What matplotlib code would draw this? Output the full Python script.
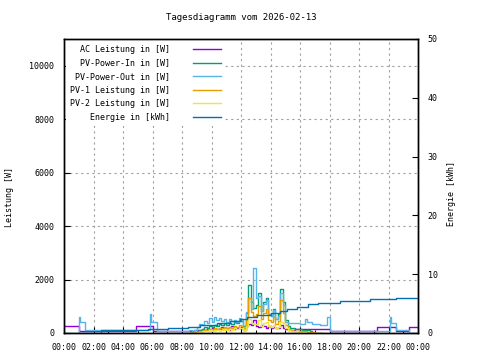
import numpy as np
import matplotlib
matplotlib.use('Agg')
from matplotlib import pyplot as plt
from matplotlib.ticker import MultipleLocator, FixedLocator

TITLE = 'Tagesdiagramm vom 2026-02-13'
LABELS = ['AC Leistung in [W]', 'PV-Power-In in [W]', 'PV-Power-Out in [W]',
          'PV-1 Leistung in [W]', 'PV-2 Leistung in [W]', 'Energie in [kWh]']
COLORS = ['#9400d3', '#009e73', '#56b4e9', '#e69f00', '#f0e442', '#0072b2']

# daytime samples, 10 minutes apart, starting 08:30
DAY_START = 8.5
DAY_STEP = 1 / 6.

ac_day = [80, 80, 100, 120, 100, 150, 120, 180, 110, 200,
          130, 160, 120, 220, 140, 180, 130, 250, 150, 200,
          170, 220, 120, 260, 350, 300, 500, 280, 220, 300,
          250, 200, 280, 180, 230, 170, 200, 300, 180, 150,
          110, 110, 110, 140, 140, 140, 140, 140, 140, 140,
          140, 140, 140, 140, 140]
pv_in_day = [0, 0, 40, 80, 130, 160, 210, 190, 260, 230,
             310, 270, 330, 290, 360, 310, 390, 340, 430, 390,
             480, 460, 280, 750, 1800, 1150, 950, 1050, 1500, 820,
             1150, 1320, 720, 620, 900, 520, 700, 1650, 1150, 480,
             260, 200, 170, 150, 140, 140, 130, 120, 110, 90,
             0, 0, 0, 0, 0]
pv_out_day = [100, 30, 100, 230, 350, 300, 450, 380, 560, 430,
              600, 480, 560, 450, 520, 420, 520, 460, 500, 430,
              560, 520, 120, 800, 1300, 900, 2450, 1300, 1400, 820,
              1100, 1250, 700, 620, 850, 520, 650, 1500, 1050, 420,
              380, 370, 370, 360, 360, 350, 350, 510, 420, 420,
              350, 350, 350, 300, 300]
pv1_day = [0, 0, 20, 40, 70, 90, 120, 110, 150, 130,
           180, 160, 190, 170, 210, 180, 230, 200, 250, 230,
           290, 270, 170, 480, 1300, 780, 620, 700, 1000, 540,
           760, 880, 470, 400, 600, 330, 460, 1250, 760, 300,
           150, 110, 90, 80, 70, 70, 60, 60, 50, 50,
           40, 0, 0, 0, 0]
pv2_day = [0, 0, 10, 30, 50, 60, 80, 70, 100, 90,
           120, 100, 130, 110, 140, 120, 150, 130, 170, 150,
           180, 180, 100, 250, 520, 360, 320, 340, 480, 280,
           370, 420, 250, 220, 300, 190, 240, 420, 370, 170,
           100, 80, 70, 60, 50, 40, 0, 0, 0, 0,
           0, 0, 0, 0, 0]

# night parts (hour of change, value)
ac_morning_t = [0.0, 1.0, 4.9, 6.0]
ac_morning_v = [250, 80, 250, 80]
ac_evening_t = [18.0, 21.25, 22.5, 23.4, 24.0]
ac_evening_v = [60, 220, 70, 230, 230]
out_morning_t = [0.0, 1.0, 1.1, 1.45, 5.8, 5.9, 6.3]
out_morning_v = [0, 600, 400, 100, 700, 420, 90]
out_evening_t = [17.85, 18.0, 22.1, 22.2, 22.5, 23.4, 24.0]
out_evening_v = [600, 90, 600, 380, 100, 0, 0]

energy_t = [1.2, 2.5, 5.7, 7.07, 8.43, 9.2, 10.35, 11.25, 11.93, 12.4, 13.06,
            14.0, 14.64, 15.1, 15.8, 16.56, 17.24, 18.7, 20.75, 22.5, 24.0]
energy_v = [0.05, 0.45, 0.63, 0.85, 1.05, 1.36, 1.75, 2.04, 2.32, 2.72, 3.06,
            3.45, 3.74, 4.05, 4.47, 4.88, 5.05, 5.4, 5.78, 5.95, 5.95]

W_TICKS = [0, 2000, 4000, 6000, 8000, 10000]
KWH_TICKS = [0, 10, 20, 30, 40, 50]
HOUR_TICKS = list(range(0, 25, 2))


def day_hours(vals):
    return list(DAY_START + np.arange(len(vals)) * DAY_STEP)


def series():
    out = []
    out.append((ac_morning_t + day_hours(ac_day) + ac_evening_t,
                ac_morning_v + ac_day + ac_evening_v))
    out.append((day_hours(pv_in_day), pv_in_day))
    out.append((out_morning_t + day_hours(pv_out_day) + out_evening_t,
                out_morning_v + pv_out_day + out_evening_v))
    out.append((day_hours(pv1_day), pv1_day))
    out.append((day_hours(pv2_day), pv2_day))
    return out


plt.rcParams['font.family'] = ['DejaVu Sans Mono']
plt.rcParams['font.size'] = 6

fig = plt.figure(figsize=(4.8, 3.6), dpi=100)
ax = fig.add_axes([64 / 480., 27 / 360., 354 / 480., 294 / 360.])
ax2 = ax.twinx()

handles = []
for (t, v), lab, col in zip(series(), LABELS, COLORS):
    h, = ax.plot(t, v, drawstyle='steps-post', color=col, lw=1.0, label=lab)
    handles.append(h)
h, = ax2.plot(energy_t, energy_v, drawstyle='steps-post', color=COLORS[5],
              lw=1.0, label=LABELS[5])
handles.append(h)

ax.set_xlim(0, 24)
ax.set_ylim(0, 11000)
ax2.set_ylim(0, 50)
ax.xaxis.set_major_locator(FixedLocator(HOUR_TICKS))
ax.set_xticklabels(['%02d:00' % (hh % 24) for hh in HOUR_TICKS])
ax.xaxis.set_minor_locator(MultipleLocator(1))
ax.set_yticks(W_TICKS)
ax2.set_yticks(KWH_TICKS)

ax.grid(True, color='#a0a0a0', linestyle=(0, (2, 3)), lw=0.8)
ax.tick_params(axis='both', which='major', direction='in', length=4,
               width=0.8, pad=7, labelsize=6)
ax.tick_params(axis='x', which='minor', direction='in', length=2.5, width=0.8)
ax2.tick_params(axis='y', direction='in', length=4, width=0.8, pad=7,
                labelsize=6)
for a in (ax, ax2):
    for sp in a.spines.values():
        sp.set_linewidth(1.0)
        sp.set_color('black')

ax.set_title(TITLE, fontsize=6.5, pad=14)
fig.text(10 / 480., 1 - 197 / 360., 'Leistung [W]', rotation=90,
         ha='center', va='center', fontsize=6)
fig.text(451 / 480., 1 - 194 / 360., 'Energie [kWh]', rotation=90,
         ha='center', va='center', fontsize=6)

leg = ax2.legend(handles=handles, loc='upper left', bbox_to_anchor=(0, 1),
                 markerfirst=False, frameon=True, fancybox=False,
                 facecolor='white', edgecolor='none', framealpha=1,
                 fontsize=6, handlelength=3.3, handletextpad=2.8,
                 labelspacing=0.55, borderpad=0.5, borderaxespad=0.2)

fig.savefig('out.png', dpi=100)
